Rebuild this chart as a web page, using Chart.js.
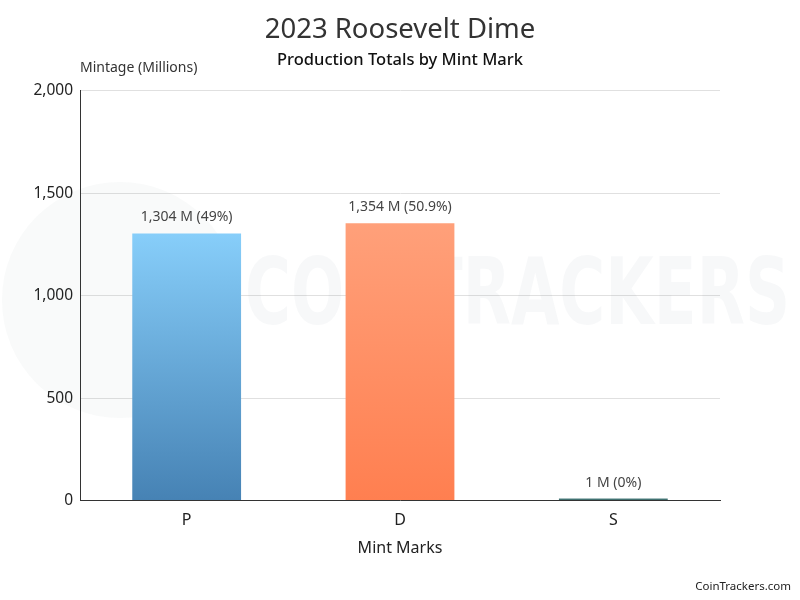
<!DOCTYPE html>
<html>
<head>
<meta charset="utf-8">
<script src="https://cdn.jsdelivr.net/npm/chart.js@4.4.0/dist/chart.umd.min.js"></script>
<style>
  html, body { margin: 0; padding: 0; background: #fff; }
  #wrap { width: 800px; height: 600px; }
</style>
</head>
<body>
<div id="wrap"><canvas id="chart" width="800" height="600"></canvas></div>
<script>
// values (millions)
const mintMarks = ['P', 'D', 'S'];
const mintage = [1304, 1354, 1];
const yTicks = [0, 500, 1000, 1500, 2000];

const FONT = "'Noto Sans', 'Open Sans', sans-serif";
const total = mintage.reduce((a, b) => a + b, 0);

const barColours = [
  ['#87cefa', '#4682b4'],
  ['#ffa07a', '#ff7f50'],
  ['#4f8080', '#2f5f5f']
];

// watermark, axis caption, bar labels and the credit line
const extras = {
  id: 'extras',
  beforeDatasetsDraw(chart) {
    const ctx = chart.ctx;
    ctx.save();
    ctx.fillStyle = 'rgba(60, 80, 110, 0.03)';
    ctx.beginPath();
    ctx.arc(120, 300, 118, 0, Math.PI * 2);
    ctx.fill();
    ctx.font = "bold 92px 'DejaVu Sans'";
    ctx.textBaseline = 'middle';
    const w = ctx.measureText('COINTRACKERS').width;
    ctx.translate(245, 300);
    ctx.scale(545 / w, 1);
    ctx.fillStyle = 'rgba(60, 80, 110, 0.04)';
    ctx.fillText('COINTRACKERS', 0, 0);
    ctx.restore();
  },
  afterDatasetsDraw(chart) {
    const ctx = chart.ctx;
    const area = chart.chartArea;
    ctx.save();
    ctx.fillStyle = '#333';
    ctx.font = '14px ' + FONT;
    ctx.textAlign = 'left';
    ctx.textBaseline = 'middle';
    ctx.fillText('Mintage (Millions)', area.left, 68);

    ctx.textAlign = 'center';
    ctx.fillStyle = '#444';
    chart.getDatasetMeta(0).data.forEach((bar, i) => {
      const pct = parseFloat((mintage[i] / total * 100).toFixed(1));
      const txt = mintage[i].toLocaleString('en-US') + ' M (' + pct + '%)';
      ctx.fillText(txt, bar.x, bar.y - 16);
    });

    ctx.textAlign = 'right';
    ctx.font = '11.5px ' + FONT;
    ctx.fillStyle = '#222';
    ctx.fillText('CoinTrackers.com', 791, 587);
    ctx.restore();
  }
};

new Chart(document.getElementById('chart'), {
  type: 'bar',
  data: {
    labels: mintMarks,
    datasets: [{
      data: mintage,
      backgroundColor(c) {
        const cols = barColours[c.dataIndex];
        const y = c.chart.scales && c.chart.scales.y;
        if (!y || !c.chart.chartArea) return cols[1];
        const top = y.getPixelForValue(c.raw);
        const bottom = y.getPixelForValue(0);
        const g = c.chart.ctx.createLinearGradient(0, Math.min(top, bottom - 2), 0, bottom);
        g.addColorStop(0, cols[0]);
        g.addColorStop(1, cols[1]);
        return g;
      },
      barPercentage: 0.51,
      categoryPercentage: 1,
      minBarLength: 2
    }]
  },
  options: {
    responsive: false,
    animation: false,
    layout: { padding: { top: 14, right: 0, bottom: 42, left: 0 } },
    plugins: {
      legend: { display: false },
      tooltip: { enabled: false },
      title: {
        display: true,
        text: '2023 Roosevelt Dime',
        color: '#333',
        font: { family: FONT, size: 27.5, weight: 'normal' },
        padding: { top: 0, bottom: 3 }
      },
      subtitle: {
        display: true,
        text: 'Production Totals by Mint Mark',
        color: '#111',
        font: { family: FONT, size: 16.5, weight: 500 },
        padding: { top: 0, bottom: 21 }
      }
    },
    scales: {
      x: {
        grid: { display: false },
        border: { color: '#333', width: 1 },
        ticks: { color: '#222', font: { family: FONT, size: 16 }, padding: 2 },
        title: {
          display: true,
          text: 'Mint Marks',
          color: '#222',
          font: { family: FONT, size: 16 },
          padding: { top: 7, bottom: 0 }
        }
      },
      y: {
        min: 0,
        max: 2000,
        afterBuildTicks(scale) {
          scale.ticks = yTicks.map(v => ({ value: v }));
        },
        afterFit(scale) { scale.width = 80; },
        grid: { color: '#e0e0e0', drawTicks: false },
        border: { color: '#333', width: 1 },
        ticks: { color: '#222', font: { family: FONT, size: 15.5 }, padding: 7 }
      },
      // empty right-hand axis: keeps 80px of room so the title stays centred on the canvas
      pad: {
        position: 'right',
        afterFit(scale) { scale.width = 80; },
        grid: { display: false },
        border: { display: false },
        ticks: { display: false }
      }
    }
  },
  plugins: [extras]
});
</script>
</body>
</html>
